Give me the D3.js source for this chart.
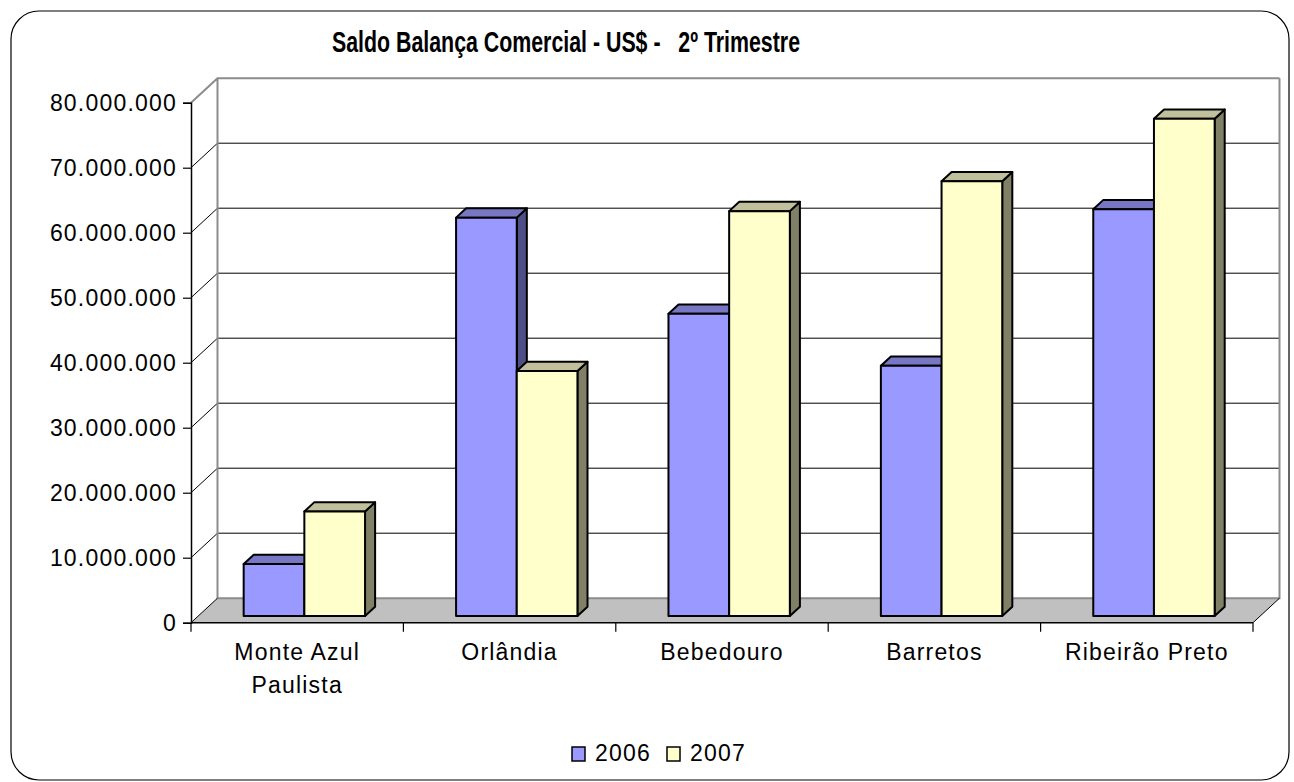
<!DOCTYPE html>
<html>
<head>
<meta charset="utf-8">
<script src="https://cdn.jsdelivr.net/npm/d3@7"></script>
<style>
  body { margin: 0; background: #fff; }
  text { font-family: "Liberation Sans", Arial, sans-serif; fill: #000; }
</style>
</head>
<body>
<div id="svg"></div>
<script>
const categories = ["Monte Azul\nPaulista", "Orlândia", "Bebedouro", "Barretos", "Ribeirão Preto"];
const series = ["2006", "2007"];
const values2006 = [8.0e6, 61.3e6, 46.5e6, 38.5e6, 62.6e6];
const values2007 = [16.1e6, 37.7e6, 62.3e6, 66.9e6, 76.5e6];
const yTicks = [0, 10e6, 20e6, 30e6, 40e6, 50e6, 60e6, 70e6, 80e6];

const width = 1294,
      height = 782;

const svg = d3.select("#svg")
  .append("svg")
    .attr("width", width)
    .attr("height", height);

const fill = { "2006": "#9999ff", "2007": "#ffffcc" };
const topFill = { "2006": "#7777c4", "2007": "#c0c09c" };
const sideFill = { "2006": "#4f4f88", "2007": "#808066" };

// depth of the 3D box
const DX = 26.5, DY = 24.5;

const x = d3.scaleBand()
    .domain(categories)
    .range([191, 1253]);

const xs = d3.scaleBand()
    .domain(series)
    .range([0, x.bandwidth()])
    .paddingOuter(0.75);

const y = d3.scaleLinear()
    .domain([0, 80e6])
    .range([622.7, 102.7]);

const fmt = d3.formatLocale({ decimal: ",", thousands: ".", grouping: [3], currency: ["", ""] }).format(",.0f");

// outer frame
svg.append("rect")
    .attr("x", 11).attr("y", 11)
    .attr("width", 1278).attr("height", 769)
    .attr("rx", 28)
    .attr("fill", "#fff")
    .attr("stroke", "#000")
    .attr("stroke-width", 1.2);

// title
svg.append("text")
    .attr("x", 566)
    .attr("y", 52)
    .attr("text-anchor", "middle")
    .attr("font-weight", "bold")
    .attr("font-size", 29)
    .attr("textLength", 468)
    .attr("lengthAdjust", "spacingAndGlyphs")
    .style("white-space", "pre")
    .text("Saldo Balança Comercial - US$ -   2º Trimestre");

const x0 = x.range()[0], x1 = x.range()[1];
const yb = y(0), yt = y(80e6);

// floor
svg.append("path")
    .attr("d", `M${x0},${yb}L${x1},${yb}L${x1 + DX},${yb - DY}L${x0 + DX},${yb - DY}Z`)
    .attr("fill", "#c0c0c0")
    .attr("stroke", "none");

// gridlines (back wall + side wall)
const grid = svg.append("g");
grid.selectAll("line.back")
  .data(yTicks.slice(1, -1))
  .join("line")
    .attr("x1", x0 + DX).attr("x2", x1 + DX)
    .attr("y1", d => y(d) - DY).attr("y2", d => y(d) - DY)
    .attr("stroke", "#000").attr("stroke-width", 1);
grid.selectAll("line.side")
  .data(yTicks.slice(1, -1))
  .join("line")
    .attr("x1", x0).attr("x2", x0 + DX)
    .attr("y1", d => y(d)).attr("y2", d => y(d) - DY)
    .attr("stroke", "#000").attr("stroke-width", 1);

// wall edges
const walls = svg.append("g")
    .attr("fill", "none")
    .attr("stroke", "#8c8c8c")
    .attr("stroke-width", 2);
walls.append("path")
    .attr("d", `M${x0},${yt}L${x0 + DX},${yt - DY}L${x1 + DX},${yt - DY}M${x0 + DX},${yt - DY}L${x0 + DX},${yb - DY}L${x1 + DX},${yb - DY}L${x1 + DX},${yt - DY}`);

// floor edges
svg.append("path")
    .attr("d", `M${x0},${yb}L${x0 + DX},${yb - DY}M${x1},${yb}L${x1 + DX},${yb - DY}`)
    .attr("stroke", "#000").attr("stroke-width", 1).attr("fill", "none");

// bars
const f0 = 0.27, f1 = 0.65;
const bars = categories.flatMap((c, i) => [
  { cat: c, key: "2006", value: values2006[i] },
  { cat: c, key: "2007", value: values2007[i] }
]);

const bar = svg.append("g").selectAll("g")
  .data(bars)
  .join("g")
    .attr("stroke", "#000")
    .attr("stroke-width", 2)
    .attr("stroke-linejoin", "round");

function barGeom(d) {
  const l = x(d.cat) + xs(d.key) + f0 * DX;
  const r = l + xs.bandwidth();
  const b = y(0) - f0 * DY;
  const t = y(d.value) - f0 * DY;
  const dx = (f1 - f0) * DX, dy = (f1 - f0) * DY;
  return { l, r, b, t, dx, dy };
}

bar.append("path")
    .attr("fill", d => sideFill[d.key])
    .attr("d", d => {
      const g = barGeom(d);
      return `M${g.r},${g.b}L${g.r + g.dx},${g.b - g.dy}L${g.r + g.dx},${g.t - g.dy}L${g.r},${g.t}Z`;
    });
bar.append("path")
    .attr("fill", d => topFill[d.key])
    .attr("d", d => {
      const g = barGeom(d);
      return `M${g.l},${g.t}L${g.l + g.dx},${g.t - g.dy}L${g.r + g.dx},${g.t - g.dy}L${g.r},${g.t}Z`;
    });
bar.append("rect")
    .attr("fill", d => fill[d.key])
    .attr("x", d => barGeom(d).l)
    .attr("y", d => barGeom(d).t)
    .attr("width", xs.bandwidth())
    .attr("height", d => barGeom(d).b - barGeom(d).t);

// y axis
const yAxis = svg.append("g")
    .attr("transform", `translate(${x0},0)`)
    .call(d3.axisLeft(y).tickValues(yTicks).tickFormat(fmt).tickSize(8).tickPadding(6));
yAxis.select(".domain").attr("stroke", "#000").attr("stroke-width", 1.5);
yAxis.selectAll(".tick line").attr("stroke", "#000").attr("stroke-width", 1.2);
yAxis.selectAll(".tick text")
    .attr("font-size", 23)
    .attr("letter-spacing", 1.2)
    .attr("font-family", "Liberation Sans, Arial, sans-serif")
    .attr("dy", "0.35em")
    .attr("fill", "#000");

// x axis
const xAxis = svg.append("g")
    .attr("transform", `translate(0,${yb})`);
xAxis.append("line")
    .attr("x1", x0).attr("x2", x1)
    .attr("stroke", "#000").attr("stroke-width", 1.5);
xAxis.selectAll("line.tick")
  .data(categories.map(c => x(c)).concat([x1]))
  .join("line")
    .attr("x1", d => d).attr("x2", d => d)
    .attr("y1", 0).attr("y2", 9)
    .attr("stroke", "#000").attr("stroke-width", 1.2);
xAxis.selectAll("text")
  .data(categories)
  .join("text")
    .attr("x", d => x(d) + x.bandwidth() / 2)
    .attr("y", 37)
    .attr("text-anchor", "middle")
    .attr("font-size", 23)
    .attr("letter-spacing", 1.2)
    .selectAll("tspan")
    .data(d => d.split("\n"))
    .join("tspan")
      .attr("x", function() { return d3.select(this.parentNode).attr("x"); })
      .attr("dy", (d, i) => i ? 33 : 0)
      .text(d => d);

// legend
const legend = svg.append("g")
    .attr("transform", "translate(572,747)");
const legendX = [0, 95];
const li = legend.selectAll("g")
  .data(series)
  .join("g")
    .attr("transform", (d, i) => `translate(${legendX[i]},0)`);
li.append("rect")
    .attr("width", 13).attr("height", 14)
    .attr("fill", d => fill[d])
    .attr("stroke", "#000").attr("stroke-width", 1.5);
li.append("text")
    .attr("x", 23).attr("y", 14)
    .attr("font-size", 23)
    .attr("letter-spacing", 1.2)
    .text(d => d);
</script>
</body>
</html>
